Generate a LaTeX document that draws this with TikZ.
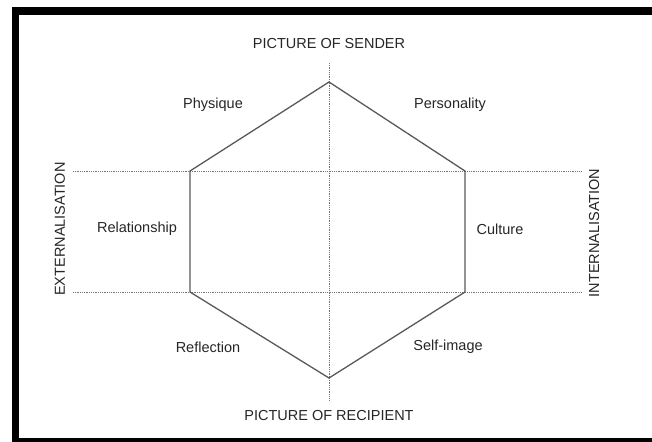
\documentclass[tikz,border=0pt]{standalone}
\usepackage{fontspec}
\setmainfont{Liberation Sans}

\begin{document}
\begin{tikzpicture}[x=1pt, y=-1pt,
    lbl/.style={font=\fontsize{14.5}{17}\selectfont, text=black!85, inner sep=0pt},
    guide/.style={densely dotted, black!55, line width=0.8pt},
    hexline/.style={black!65, line width=1.3pt}]
    \useasboundingbox (0,0) rectangle (652,441);
    \clip (0,0) rectangle (652,441);

    % frame
    \draw[line width=7.5pt] (15.5,11) rectangle (670,441.5);

    % hexagon corners
    \coordinate (top) at (329,82);
    \coordinate (ul) at (190,171);
    \coordinate (ur) at (465,171);
    \coordinate (ll) at (190,292);
    \coordinate (lr) at (465,292);
    \coordinate (bot) at (329,378);

    % guide line ends
    \coordinate (gul) at (73,171);
    \coordinate (gur) at (582,171);
    \coordinate (gll) at (73,292);
    \coordinate (glr) at (582,292);
    \coordinate (gtop) at (329,63);
    \coordinate (gbot) at (329,400);

    \draw[guide] (gul) -- (gur);
    \draw[guide] (gll) -- (glr);
    \draw[guide] (gtop) -- (gbot);

    \draw[hexline, line join=miter] (top) -- (ur) -- (lr) -- (bot) -- (ll) -- (ul) -- cycle;

    \node[lbl] (sender) at (329,44) {PICTURE OF SENDER};
    \node[lbl] (recipient) at (329,416) {PICTURE OF RECIPIENT};
    \node[lbl, rotate=90] (ext) at (60,229) {EXTERNALISATION};
    \node[lbl, rotate=90] (int) at (594,233) {INTERNALISATION};

    \node[lbl] (physique) at (213,105) {Physique};
    \node[lbl] (personality) at (450,105) {Personality};
    \node[lbl] (relationship) at (137,229) {Relationship};
    \node[lbl] (culture) at (500,229) {Culture};
    \node[lbl] (reflection) at (208,347) {Reflection};
    \node[lbl] (selfimage) at (448,347) {Self-image};
\end{tikzpicture}
\end{document}
